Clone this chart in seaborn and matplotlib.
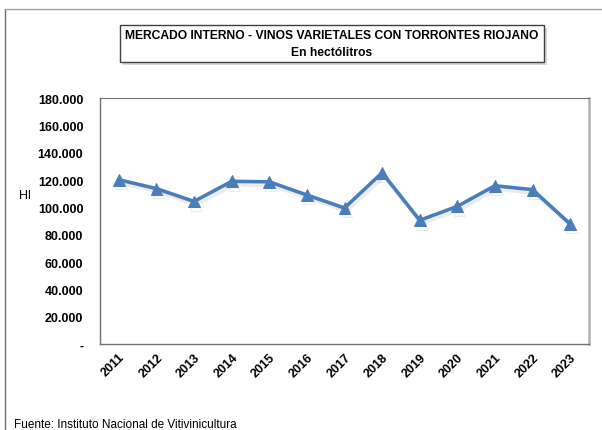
import pandas as pd
import seaborn as sns
import matplotlib.pyplot as plt
import matplotlib.patheffects as pe
from matplotlib.lines import Line2D
from matplotlib.patches import Rectangle
from matplotlib.ticker import FuncFormatter, MultipleLocator

years = ['2011', '2012', '2013', '2014', '2015', '2016', '2017',
         '2018', '2019', '2020', '2021', '2022', '2023']
hl = [120200, 113700, 104300, 119000, 118700, 109000, 99500,
      125300, 90500, 100700, 115800, 112900, 87800]

df = pd.DataFrame({'year': years, 'hl': hl})

sns.set_style("white")
plt.rcParams['font.family'] = ['Liberation Sans', 'DejaVu Sans']
plt.rcParams['text.color'] = 'black'
plt.rcParams['xtick.color'] = 'black'
plt.rcParams['ytick.color'] = 'black'

fig = plt.figure(figsize=(6.02, 4.31), dpi=100)
W, H = 602, 431
ax = fig.add_axes([100 / W, (H - 345) / H, 489 / W, 246 / H])

line_col = '#4A7EBB'
sns.lineplot(x='year', y='hl', data=df, ax=ax, color=line_col, linewidth=2.6,
             marker='^', markersize=8.5, markeredgecolor=line_col, sort=False)
for ln in ax.lines:
    ln.set_path_effects([pe.SimpleLineShadow(offset=(1.5, -2.5), shadow_color='gray', alpha=0.15),
                         pe.Normal()])

ax.set_xlim(-0.5, len(years) - 0.5)
ax.set_ylim(0, 180000)
ax.yaxis.set_major_locator(MultipleLocator(20000))
ax.yaxis.set_major_formatter(FuncFormatter(
    lambda v, p: '-' if v == 0 else f'{int(v):,}'.replace(',', '.')))

ax.set_xticks([i - 0.5 for i in range(len(years) + 1)], minor=False)
ax.set_xticklabels([])
ax.set_xticks(range(len(years)), minor=True)
ax.set_xticklabels(years, minor=True, rotation=45, ha='right', rotation_mode='anchor',
                   fontsize=9, fontweight='bold')
ax.tick_params(axis='x', which='minor', length=0, pad=5)
ax.tick_params(axis='x', which='major', length=4, width=0.8, color='#606060', direction='out')
ax.tick_params(axis='y', length=4, width=0.8, color='#606060', direction='out',
               labelsize=9, pad=8)
for lab in ax.get_yticklabels():
    lab.set_fontweight('bold')

for s in ['left', 'bottom']:
    ax.spines[s].set_color('#707070')
    ax.spines[s].set_linewidth(1.0)
ax.spines['top'].set_color('#707070')
ax.spines['top'].set_linewidth(0.8)
ax.spines['right'].set_color('#b0b0b0')
ax.spines['right'].set_linewidth(1.8)
ax.set_xlabel('')
ax.set_ylabel('')

fig.text(25 / W, 1 - 196 / H, 'Hl', fontsize=9, va='center', ha='center')

# outer chart border
fig.add_artist(Line2D([4.5 / W, 4.5 / W], [0, 1 - 10 / H], transform=fig.transFigure,
                      color='#707070', linewidth=1.0))
fig.add_artist(Line2D([4.5 / W, 1], [1 - 10 / H, 1 - 10 / H], transform=fig.transFigure,
                      color='#a0a0a0', linewidth=1.0))

# title box with shadow
bx0, by0, bx1, by1 = 120, 26, 544, 63
fig.add_artist(Rectangle(((bx0 + 3) / W, 1 - (by1 + 3) / H), (bx1 - bx0) / W, (by1 - by0) / H,
                         transform=fig.transFigure, facecolor='#d9d9d9', edgecolor='none'))
fig.add_artist(Rectangle((bx0 / W, 1 - by1 / H), (bx1 - bx0) / W, (by1 - by0) / H,
                         transform=fig.transFigure, facecolor='white', edgecolor='#404040',
                         linewidth=1.0))
fig.text((bx0 + bx1) / 2 / W, 1 - 36 / H, 'MERCADO INTERNO - VINOS VARIETALES CON TORRONTES RIOJANO',
         ha='center', va='center', fontsize=8.7, fontweight='bold')
fig.text((bx0 + bx1) / 2 / W, 1 - 53 / H, 'En hectólitros',
         ha='center', va='center', fontsize=8.7, fontweight='bold')

fig.text(14 / W, 1 - 425 / H, 'Fuente: Instituto Nacional de Vitivinicultura',
         ha='left', va='center', fontsize=8.5)

fig.savefig('out.png', dpi=100)
